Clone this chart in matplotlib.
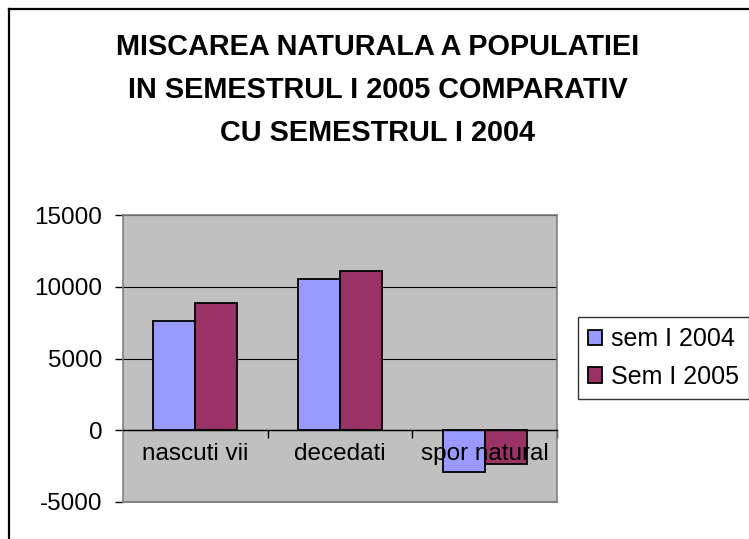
import matplotlib
matplotlib.use('Agg')
import matplotlib.pyplot as plt
from matplotlib.lines import Line2D
import numpy as np

# --- data ---
categories = ['nascuti vii', 'decedati', 'spor natural']
sem_2004 = [7620, 10540, -2920]
sem_2005 = [8870, 11100, -2350]
series_labels = ['sem I 2004', 'Sem I 2005']
title = 'MISCAREA NATURALA A POPULATIEI\nIN SEMESTRUL I 2005 COMPARATIV\nCU SEMESTRUL I 2004'
y_ticks = [-5000, 0, 5000, 10000, 15000]

BLUE = '#9999FF'
PLUM = '#993366'
PLOT_BG = '#C0C0C0'

plt.rcParams['font.family'] = ['Liberation Sans', 'DejaVu Sans']

W, H = 749, 539
fig = plt.figure(figsize=(W / 100, H / 100), dpi=100)
fig.patch.set_facecolor('white')

# chart area frame (only left + top are visible, the rest is cut off)
fig.add_artist(Line2D([8.5 / W, 8.5 / W], [0, 1 - 8.5 / H], color='black', lw=1.6,
                      transform=fig.transFigure))
fig.add_artist(Line2D([8.5 / W, 1], [1 - 8.5 / H, 1 - 8.5 / H], color='black', lw=1.6,
                      transform=fig.transFigure))

ax = fig.add_axes([123 / W, (H - 502) / H, 434 / W, 287 / H])
ax.set_facecolor(PLOT_BG)

x = np.arange(len(categories))
bw = 0.29
ax.bar(x - bw / 2, sem_2004, bw, color=BLUE, edgecolor='black', linewidth=1.3,
       label=series_labels[0], zorder=3)
ax.bar(x + bw / 2, sem_2005, bw, color=PLUM, edgecolor='black', linewidth=1.3,
       label=series_labels[1], zorder=3)

ax.set_xlim(-0.5, len(categories) - 0.5)
ax.set_ylim(y_ticks[0], y_ticks[-1])
ax.set_yticks(y_ticks)
ax.set_yticklabels([str(v) for v in y_ticks])
ax.tick_params(axis='y', direction='out', length=6, width=1, pad=9,
               labelsize=17.5, colors='black')
ax.yaxis.grid(True, color='black', linewidth=0.8, zorder=1)
ax.set_axisbelow(True)

# category axis sits on zero, with ticks between the groups
for s in ['top', 'right', 'left']:
    ax.spines[s].set_color('#808080')
    ax.spines[s].set_linewidth(1.2)
ax.spines['left'].set_zorder(4)
ax.spines['bottom'].set_position(('data', 0))
ax.spines['bottom'].set_color('black')
ax.spines['bottom'].set_linewidth(1)
ax.spines['bottom'].set_zorder(4)
ax.set_xticks(np.append(x[1:] - 0.5, x[-1] + 0.5))
ax.set_xticklabels([])
ax.tick_params(axis='x', direction='out', length=6, width=1, colors='black')
ax.plot([-0.5, len(categories) - 0.5], [y_ticks[0], y_ticks[0]], color='#808080',
        lw=1.4, clip_on=False, zorder=4)

for xi, name in zip(x, categories):
    ax.annotate(name, xy=(xi, 0), xytext=(0, -17), textcoords='offset points',
                ha='center', va='center', fontsize=17.5, zorder=5)

fig.text(378 / W, 1 - 90 / H, title, ha='center', va='center',
         fontsize=20.8, fontweight='bold', linespacing=1.69)

leg = ax.legend(loc='upper left', bbox_to_anchor=(578 / W, 1 - 317 / H),
                bbox_transform=fig.transFigure, fontsize=18, frameon=True,
                fancybox=False, shadow=False, handlelength=0.56, handleheight=0.56,
                handletextpad=0.35, borderpad=0.4, labelspacing=0.55,
                borderaxespad=0)
leg.get_frame().set_edgecolor('black')
leg.get_frame().set_linewidth(1)

fig.savefig('out.png', dpi=100)
